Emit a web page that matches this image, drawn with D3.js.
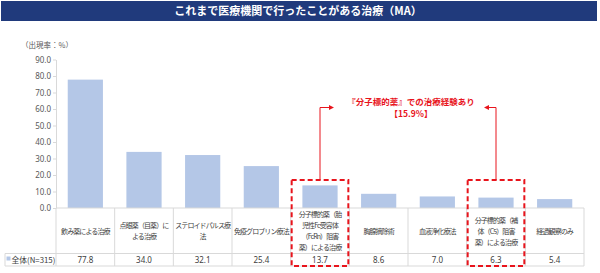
<!DOCTYPE html>
<html>
<head>
<meta charset="utf-8">
<script src="https://cdn.jsdelivr.net/npm/d3@7"></script>
<style>
  body { margin: 0; background: #fff; }
  svg { font-family: "Noto Sans CJK JP", "Noto Sans", sans-serif; }
</style>
</head>
<body>
<div id="chart"></div>
<script>
// chart data
const titleText = 'これまで医療機関で行ったことがある治療（MA）';
const categories = [
  ['飲み薬による治療'],
  ['点眼薬（目薬）に', 'よる治療'],
  ['ステロイドパルス療', '法'],
  ['免疫グロブリン療法'],
  ['分子標的薬（胎', '児性Fc受容体', '（FcRn）阻害', '薬）による治療'],
  ['胸腺摘除術'],
  ['血液浄化療法'],
  ['分子標的薬（補', '体（C5）阻害', '薬）による治療'],
  ['経過観察のみ']
];
const values = [77.8, 34.0, 32.1, 25.4, 13.7, 8.6, 7.0, 6.3, 5.4];
const yTicks = [0, 10, 20, 30, 40, 50, 60, 70, 80, 90];
const seriesName = '全体(N=315)';
const highlighted = [4, 7];
const noteLines = ['『分子標的薬』での治療経験あり', '【15.9%】'];

const width = 600, height = 273;
const margin = { top: 59.5, left: 56, right: 16, bottom: 65 };
const tableTop = 208, rowTop = 253.5, tableBottom = 266;
const gridColor = '#d9d9d9';
const red = '#e8141c';

const svg = d3.select('#chart').append('svg')
  .attr('width', width)
  .attr('height', height);

// title bar
svg.append('rect')
  .attr('x', 1).attr('y', 1)
  .attr('width', 596).attr('height', 20)
  .attr('fill', '#203a7c');
svg.append('text')
  .attr('x', 298).attr('y', 15)
  .attr('text-anchor', 'middle')
  .attr('fill', '#fff')
  .attr('font-size', 11)
  .attr('font-weight', 'bold')
  .text(titleText);

// scales
const x = d3.scaleBand()
  .domain(d3.range(categories.length))
  .range([margin.left, 584])
  .paddingInner(0.4)
  .paddingOuter(0.2);

const bandStep = x.step();
const bandStart = i => margin.left + i * bandStep;

const y = d3.scaleLinear()
  .domain([0, 90])
  .range([tableTop, margin.top]);

// y axis
const yAxisG = svg.append('g')
  .attr('transform', `translate(${margin.left},0)`)
  .call(d3.axisLeft(y).tickValues(yTicks).tickFormat(d3.format('.1f')).tickSize(3).tickSizeOuter(0));
yAxisG.select('.domain').attr('stroke', gridColor);
yAxisG.selectAll('.tick line').attr('stroke', gridColor);
yAxisG.selectAll('.tick text')
  .attr('fill', '#595959')
  .attr('font-size', 8)
  .attr('font-family', '"Noto Sans", sans-serif')
  .attr('x', -5);

svg.append('text')
  .attr('x', 47).attr('y', 48)
  .attr('text-anchor', 'middle')
  .attr('fill', '#595959')
  .attr('font-size', 7.5)
  .text('（出現率：%）');

// bars
svg.append('g').selectAll('rect')
  .data(values)
  .join('rect')
  .attr('x', (d, i) => x(i))
  .attr('width', x.bandwidth())
  .attr('y', d => y(d))
  .attr('height', d => y(0) - y(d))
  .attr('fill', '#b4c7e7');

// data table
const table = svg.append('g')
  .attr('stroke', gridColor)
  .attr('stroke-width', 1)
  .attr('fill', 'none');

table.append('line').attr('x1', margin.left).attr('x2', 584).attr('y1', tableTop).attr('y2', tableTop);
table.append('line').attr('x1', 5).attr('x2', 584).attr('y1', rowTop).attr('y2', rowTop);
table.append('line').attr('x1', 5).attr('x2', 584).attr('y1', tableBottom).attr('y2', tableBottom);
table.append('line').attr('x1', 5).attr('x2', 5).attr('y1', rowTop).attr('y2', tableBottom);
table.selectAll('.sep')
  .data(d3.range(categories.length + 1))
  .join('line')
  .attr('class', 'sep')
  .attr('x1', i => bandStart(i)).attr('x2', i => bandStart(i))
  .attr('y1', tableTop).attr('y2', tableBottom);

// category labels
const lineH = 11;
const labelG = svg.append('g')
  .attr('font-size', 7)
  .attr('letter-spacing', -0.9)
  .attr('fill', '#404040')
  .attr('text-anchor', 'middle');

categories.forEach((lines, i) => {
  const cx = bandStart(i) + bandStep / 2;
  const y0 = 233.5 - (lines.length - 1) * lineH / 2;
  labelG.append('text')
    .selectAll('tspan')
    .data(lines)
    .join('tspan')
    .attr('x', cx)
    .attr('y', (d, j) => y0 + j * lineH)
    .text(d => d);
});

// values row
svg.append('g')
  .attr('font-size', 8)
  .attr('fill', '#404040')
  .attr('text-anchor', 'middle')
  .attr('font-family', '"Noto Sans", sans-serif')
  .selectAll('text')
  .data(values)
  .join('text')
  .attr('x', (d, i) => bandStart(i) + bandStep / 2)
  .attr('y', 262.5)
  .text(d => d.toFixed(1));

// legend key in row header
svg.append('rect')
  .attr('x', 6.5).attr('y', 256.5)
  .attr('width', 4).attr('height', 4)
  .attr('fill', '#b4c7e7');
svg.append('text')
  .attr('x', 11.5).attr('y', 262.5)
  .attr('font-size', 7.8)
  .attr('fill', '#404040')
  .text(seriesName);

// highlight boxes
svg.append('g').selectAll('rect')
  .data(highlighted)
  .join('rect')
  .attr('x', i => bandStart(i) + 1)
  .attr('y', 180)
  .attr('width', bandStep - 2)
  .attr('height', tableBottom - 180)
  .attr('fill', 'none')
  .attr('stroke', red)
  .attr('stroke-width', 2)
  .attr('stroke-dasharray', '5,3');

// arrows to the note
const noteY = 107.5;
const leftX = bandStart(highlighted[0]) + bandStep / 2;
const rightX = bandStart(highlighted[1]) + bandStep / 2;
const arrows = svg.append('g').attr('stroke', red).attr('fill', 'none');
arrows.append('path').attr('d', `M${leftX},180 V${noteY} H${leftX + 10}`);
arrows.append('path').attr('d', `M${rightX},180 V${noteY} H${rightX - 8}`);
svg.append('path')
  .attr('d', `M${leftX + 14},${noteY} l-5,-2.5 v5 z M${rightX - 12},${noteY} l5,-2.5 v5 z`)
  .attr('fill', red);

svg.append('g')
  .attr('font-size', 8.5)
  .attr('font-weight', 'bold')
  .attr('fill', red)
  .attr('text-anchor', 'middle')
  .selectAll('text')
  .data(noteLines)
  .join('text')
  .attr('x', (leftX + rightX) / 2 + 3)
  .attr('y', (d, i) => 105 + i * 11.5)
  .text(d => d);
</script>
</body>
</html>
